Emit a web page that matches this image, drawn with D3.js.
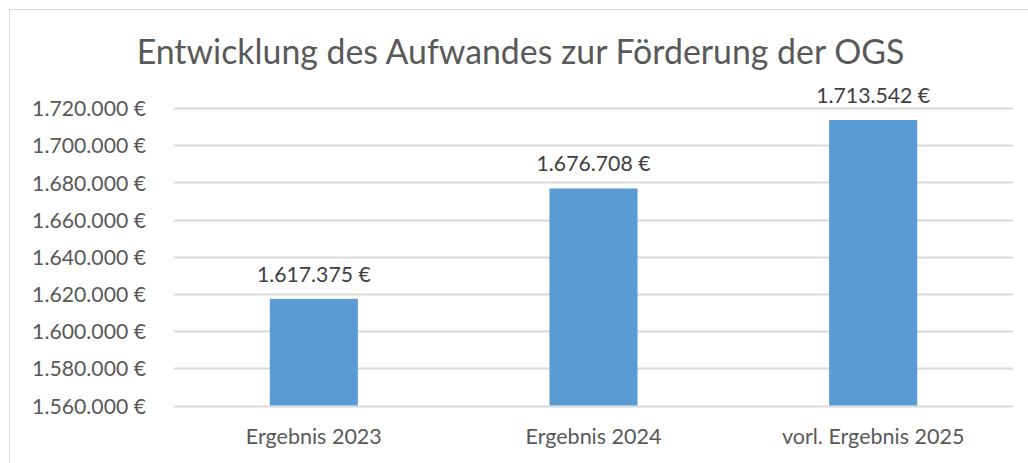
<!DOCTYPE html>
<html>
<head>
<meta charset="utf-8">
<script src="https://cdn.jsdelivr.net/npm/d3@7"></script>
<style>
  body { margin: 0; background: #fff; }
  svg { display: block; font-family: Lato, "Open Sans", sans-serif; }
</style>
</head>
<body>
<div id="chart"></div>
<script>
const title = "Entwicklung des Aufwandes zur Förderung der OGS";
const categories = ["Ergebnis 2023", "Ergebnis 2024", "vorl. Ergebnis 2025"];
const values = [1617375, 1676708, 1713542];
const yTicks = [1560000, 1580000, 1600000, 1620000, 1640000, 1660000, 1680000, 1700000, 1720000];

const W = 1028, H = 463;
const plot = { left: 174, right: 1013, top: 108, bottom: 405.5 };

// German number format: 1.617.375 €
const de = d3.formatLocale({ decimal: ",", thousands: ".", grouping: [3], currency: ["", " €"] });
const fmt = v => de.format(",")(v) + " €";

const svg = d3.select("#chart").append("svg")
    .attr("width", W)
    .attr("height", H);

// chart frame (right/bottom run off the picture)
svg.append("rect")
    .attr("x", 9.5).attr("y", 9.5)
    .attr("width", W).attr("height", H)
    .attr("fill", "#fff")
    .attr("stroke", "#d9d9d9");

const x = d3.scaleBand()
    .domain(categories)
    .range([plot.left, plot.right])
    .paddingInner(0.685)
    .paddingOuter(0.3425);

const y = d3.scaleLinear()
    .domain([yTicks[0], yTicks[yTicks.length - 1]])
    .range([plot.bottom, plot.top]);

// scale text so its width matches the reference
function fitSize(text, target, base) {
    const t = svg.append("text").style("font-size", base + "px").text(text);
    const w = t.node().getComputedTextLength();
    t.remove();
    return base * target / w;
}

const tickSize = fitSize("1.720.000 €", 114, 20);
const catSize = fitSize("Ergebnis 2023", 136, 20);
const titleSize = fitSize(title, 768, 30);

// gridlines
svg.append("g")
    .selectAll("line")
    .data(yTicks)
    .enter()
    .append("line")
    .attr("x1", plot.left)
    .attr("x2", plot.right)
    .attr("y1", d => Math.round(y(d)) + 0.5)
    .attr("y2", d => Math.round(y(d)) + 0.5)
    .attr("stroke", "#d9d9d9")
    .attr("stroke-width", 2);

// y axis labels
const yAxis = svg.append("g")
    .attr("transform", `translate(146, 0)`)
    .call(d3.axisLeft(y).tickValues(yTicks).tickFormat(fmt).tickSize(0).tickPadding(0));
yAxis.select(".domain").remove();
yAxis.selectAll("text")
    .attr("fill", "#595959")
    .style("font-size", tickSize + "px")
    .style("font-family", "Lato, 'Open Sans', sans-serif")
    .attr("dy", "0.36em");

// x axis labels
const xAxis = svg.append("g")
    .attr("transform", `translate(0, ${plot.bottom})`)
    .call(d3.axisBottom(x).tickSize(0).tickPadding(0));
xAxis.select(".domain").remove();
xAxis.selectAll("text")
    .attr("fill", "#595959")
    .style("font-size", catSize + "px")
    .style("font-family", "Lato, 'Open Sans', sans-serif")
    .attr("y", 38)
    .attr("dy", 0);

// bars
svg.append("g")
    .selectAll("rect")
    .data(values)
    .enter()
    .append("rect")
    .attr("x", (d, i) => x(categories[i]))
    .attr("y", d => y(d))
    .attr("width", x.bandwidth())
    .attr("height", d => y(yTicks[0]) - y(d))
    .attr("fill", "#5b9bd5");

// data labels
svg.append("g")
    .selectAll("text")
    .data(values)
    .enter()
    .append("text")
    .attr("x", (d, i) => x(categories[i]) + x.bandwidth() / 2)
    .attr("y", d => y(d) - 17)
    .attr("text-anchor", "middle")
    .attr("fill", "#404040")
    .style("font-size", tickSize + "px")
    .text(fmt);

// title
svg.append("text")
    .attr("x", (plot.left + plot.right) / 2 - 73)
    .attr("y", 64)
    .attr("text-anchor", "middle")
    .attr("fill", "#595959")
    .style("font-size", titleSize + "px")
    .text(title);
</script>
</body>
</html>
